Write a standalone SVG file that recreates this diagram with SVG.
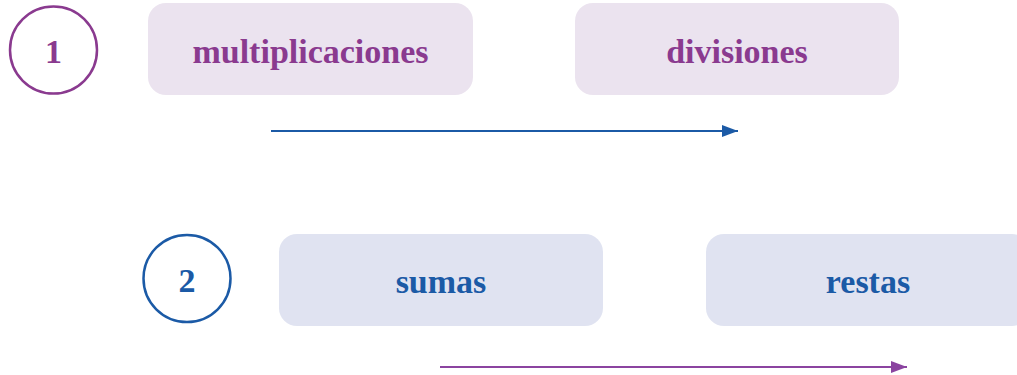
<svg xmlns="http://www.w3.org/2000/svg" width="1017" height="375" viewBox="0 0 1017 375">
<defs>
<style>
.lbl{font-family:"Liberation Serif","Times New Roman",serif;font-weight:bold;font-size:34px;text-anchor:middle}
.p{fill:#8a3a8f}
.b{fill:#1b5aa6}
.bp{fill:#ebe3ef}
.bb{fill:#e0e3f1}
</style>
<marker id="ab" markerWidth="16" markerHeight="12" refX="16" refY="6" orient="auto" markerUnits="userSpaceOnUse"><path d="M0,0 L16,6 L0,12 Z" fill="#1b5aa6"/></marker>
<marker id="ap" markerWidth="16" markerHeight="12" refX="16" refY="6" orient="auto" markerUnits="userSpaceOnUse"><path d="M0,0 L16,6 L0,12 Z" fill="#8b44a0"/></marker>
</defs>
<rect width="1017" height="375" fill="#ffffff"/>
<g id="n1">
<circle cx="53.5" cy="50" r="43.5" fill="none" stroke="#8a3a8f" stroke-width="2.5"/>
<text class="lbl p" x="53.5" y="63">1</text>
</g>
<g id="multiplicaciones">
<rect class="bp" x="148" y="3" width="325" height="92" rx="18"/>
<text class="lbl p" x="310.5" y="63">multiplicaciones</text>
</g>
<g id="divisiones">
<rect class="bp" x="575" y="3" width="324" height="92" rx="18"/>
<text class="lbl p" x="737" y="63">divisiones</text>
</g>
<g id="n2">
<circle cx="187" cy="278.5" r="43.5" fill="none" stroke="#1b5aa6" stroke-width="2.5"/>
<text class="lbl b" x="187" y="292">2</text>
</g>
<g id="sumas">
<rect class="bb" x="279" y="234" width="324" height="92" rx="18"/>
<text class="lbl b" x="441" y="293">sumas</text>
</g>
<g id="restas">
<rect class="bb" x="706" y="234" width="324" height="92" rx="18"/>
<text class="lbl b" x="868" y="293">restas</text>
</g>
<g id="connectors">
<line x1="271" y1="131" x2="738" y2="131" stroke="#1b5aa6" stroke-width="2" marker-end="url(#ab)"/>
<line x1="440" y1="367" x2="907" y2="367" stroke="#8b44a0" stroke-width="2" marker-end="url(#ap)"/>
</g>
</svg>
